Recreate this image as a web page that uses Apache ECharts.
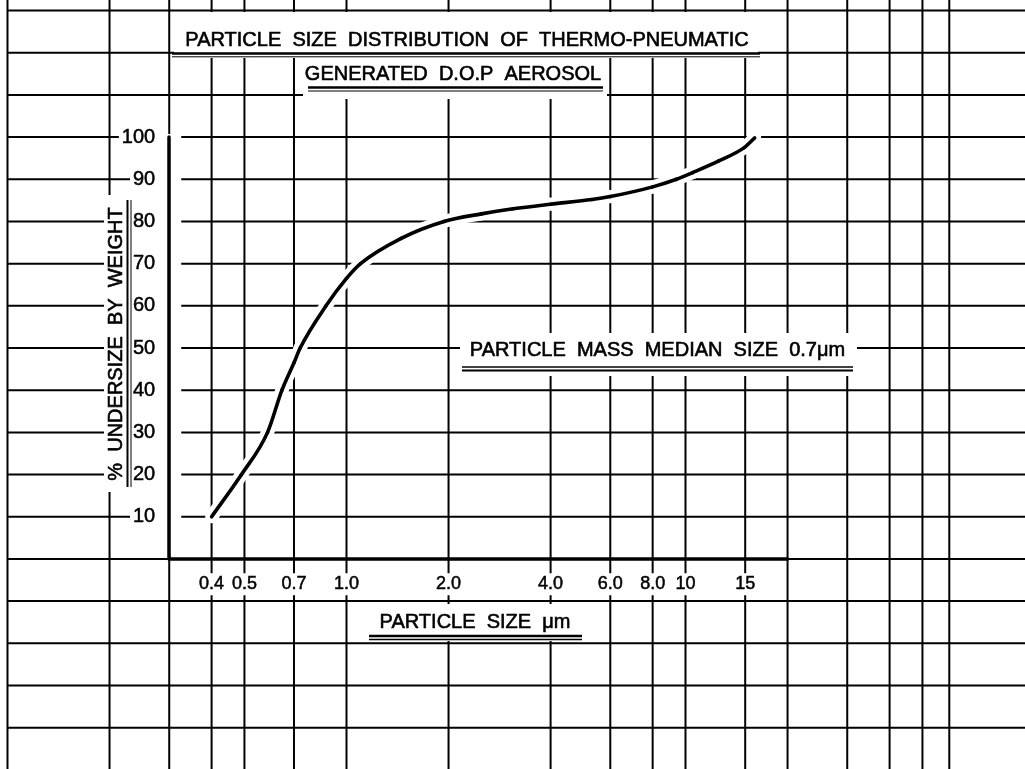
<!DOCTYPE html>
<html>
<head>
<meta charset="utf-8">
<script src="https://cdn.jsdelivr.net/npm/echarts@6/dist/echarts.min.js"></script>
<style>
html,body{margin:0;padding:0;background:#fff;}
#chart{width:1025px;height:769px;}
</style>
</head>
<body>
<div id="chart"></div>
<script>
// ---------------- data ----------------
const sizeUm =       [0.4, 0.49, 0.585, 0.645, 0.7, 0.73, 0.87, 1.0, 1.1, 1.45, 1.94, 2.5, 3.1, 4.0, 5.3, 6.0, 8.0, 9.4, 10.5, 12.5, 14.9, 16.0];
const undersizePct = [10, 20, 30, 40, 46.5, 50, 60, 66.5, 70, 76, 80, 81.8, 83.0, 84.1, 85.2, 85.9, 88.2, 90, 91.6, 94.3, 97.5, 99.8];

const xGridValues = [0.1, 0.2, 0.3, 0.4, 0.5, 0.7, 1, 2, 4, 6, 8, 10, 15, 20, 30, 40, 50, 60];
const yGridValues = [-40, -30, -20, -10, 0, 10, 20, 30, 40, 50, 60, 70, 80, 90, 100, 110, 120, 130];

const xTickValues = [0.4, 0.5, 0.7, 1, 2, 4, 6, 8, 10, 15];
const xTickLabels = ['0.4', '0.5', '0.7', '1.0', '2.0', '4.0', '6.0', '8.0', '10', '15'];

const titleLine1 = 'PARTICLE  SIZE  DISTRIBUTION  OF  THERMO-PNEUMATIC';
const titleLine2 = 'GENERATED  D.O.P  AEROSOL';
const noteText   = 'PARTICLE  MASS  MEDIAN  SIZE  0.7\u03bcm';
const xAxisName  = 'PARTICLE  SIZE  \u03bcm';
const yAxisName  = '%  UNDERSIZE  BY  WEIGHT';

// ---------------- layout ----------------
const W = 1025, H = 769;
const X_MIN = 0.09504, X_MAX = 100.34;   // whole sheet (log scale)
const Y_MIN = -49.8, Y_MAX = 132.5;      // whole sheet (linear)
const PLOT_X = [0.3, 20], PLOT_Y = [0, 100];
const TICK_LABEL_ROW = -6;
const FONT = '"Liberation Sans", Arial, sans-serif';
const lg = v => Math.log10(v);
const px = v => (lg(v) - lg(X_MIN)) / (lg(X_MAX) - lg(X_MIN)) * W;
const py = v => (Y_MAX - v) / (Y_MAX - Y_MIN) * H;

const chart = echarts.init(document.getElementById('chart'), null, {renderer: 'canvas'});

function txt(text, x, y, size, rot) {
  return {
    type: 'text', z: 7, x: x, y: y, rotation: rot || 0,
    style: {
      text: text, fill: '#000', font: size + 'px ' + FONT,
      stroke: '#000', lineWidth: 0.6,
      align: 'center', verticalAlign: 'middle',
      textAlign: 'center', textVerticalAlign: 'middle'
    }
  };
}
function mask(x, y, w, h) {
  return {type: 'rect', z: 5, shape: {x: x, y: y, width: w, height: h}, style: {fill: '#fff'}};
}
function rule(x1, y1, x2, y2, w) {
  return {type: 'line', z: 7, shape: {x1: x1, y1: y1, x2: x2, y2: y2}, style: {stroke: '#000', lineWidth: w}};
}

// monotone cubic (Fritsch-Carlson) through pixel points -> bezier segments
function monotoneBezier(p) {
  const n = p.length, d = [], m = [];
  for (let k = 0; k < n - 1; k++) d.push((p[k + 1][1] - p[k][1]) / (p[k + 1][0] - p[k][0]));
  m[0] = d[0]; m[n - 1] = d[n - 2];
  for (let k = 1; k < n - 1; k++) m[k] = (d[k - 1] * d[k] <= 0) ? 0 : (d[k - 1] + d[k]) / 2;
  for (let k = 0; k < n - 1; k++) {
    if (d[k] === 0) { m[k] = 0; m[k + 1] = 0; continue; }
    const a = m[k] / d[k], b = m[k + 1] / d[k], s = a * a + b * b;
    if (s > 9) { const t = 3 / Math.sqrt(s); m[k] = t * a * d[k]; m[k + 1] = t * b * d[k]; }
  }
  const segs = [];
  for (let k = 0; k < n - 1; k++) {
    const h = p[k + 1][0] - p[k][0];
    segs.push({x1: p[k][0], y1: p[k][1], x2: p[k + 1][0], y2: p[k + 1][1],
               cpx1: p[k][0] + h / 3, cpy1: p[k][1] + m[k] * h / 3,
               cpx2: p[k + 1][0] - h / 3, cpy2: p[k + 1][1] - m[k + 1] * h / 3});
  }
  return segs;
}

const option = {
  animation: false,
  backgroundColor: '#fff',
  grid: [
    {left: 0, right: 0, top: 0, bottom: 0},
    {left: px(PLOT_X[0]), right: W - px(PLOT_X[1]), top: py(PLOT_Y[1]), bottom: H - py(PLOT_Y[0])}
  ],
  xAxis: [
    {gridIndex: 0, type: 'log', logBase: 10, min: X_MIN, max: X_MAX, show: false},
    {gridIndex: 1, type: 'log', logBase: 10, min: PLOT_X[0], max: PLOT_X[1], z: 6,
     axisLine: {show: true, lineStyle: {color: '#000', width: 3.5}},
     axisTick: {show: false}, axisLabel: {show: false}, splitLine: {show: false}, minorTick: {show: false}}
  ],
  yAxis: [
    {gridIndex: 0, type: 'value', min: Y_MIN, max: Y_MAX, show: false},
    {gridIndex: 1, type: 'value', min: PLOT_Y[0], max: PLOT_Y[1], interval: 10, z: 6,
     axisLine: {show: true, onZero: false, lineStyle: {color: '#000', width: 3.5}},
     axisTick: {show: false}, splitLine: {show: false},
     axisLabel: {showMinLabel: false, showMaxLabel: true, margin: 11, color: '#000', fontSize: 20,
                 fontFamily: FONT, textBorderColor: '#000', textBorderWidth: 0.5,
                 backgroundColor: '#fff', padding: [1, 3, 1, 3]}}
  ],
  series: [
    { // vertical sheet lines
      type: 'custom', xAxisIndex: 0, yAxisIndex: 0, z: 1, silent: true,
      data: xGridValues.map(v => [v, 0]),
      renderItem: function (params, api) {
        const p = api.coord([api.value(0), 0]);
        const cs = params.coordSys;
        return {type: 'line', shape: {x1: p[0], y1: cs.y, x2: p[0], y2: cs.y + cs.height},
                style: {stroke: '#000', lineWidth: 2}};
      }
    },
    { // horizontal sheet lines
      type: 'custom', xAxisIndex: 0, yAxisIndex: 0, z: 1, silent: true,
      data: yGridValues.map(v => [1, v]),
      renderItem: function (params, api) {
        const p = api.coord([1, api.value(1)]);
        const cs = params.coordSys;
        const x0 = api.coord([xGridValues[0], 0])[0];
        return {type: 'line', shape: {x1: x0, y1: p[1], x2: cs.x + cs.width, y2: p[1]},
                style: {stroke: '#000', lineWidth: 2}};
      }
    },
    { // the distribution curve with a white drafting halo underneath
      type: 'custom', xAxisIndex: 0, yAxisIndex: 0, z: 3, silent: true, clip: false,
      data: [[sizeUm[0], undersizePct[0]]],
      renderItem: function (params, api) {
        const pts = sizeUm.map((v, i) => api.coord([v, undersizePct[i]]));
        const segs = monotoneBezier(pts);
        const mk = (color, width) => segs.map(s => ({
          type: 'bezierCurve', shape: s,
          style: {stroke: color, lineWidth: width, lineCap: 'round', fill: 'none'}
        }));
        return {type: 'group', children: mk('#fff', 13).concat(mk('#000', 3.6))};
      }
    },
    { // white band around the y axis
      type: 'custom', xAxisIndex: 0, yAxisIndex: 0, z: 4, silent: true,
      data: [[PLOT_X[0], PLOT_Y[0]]],
      renderItem: function (params, api) {
        const top = api.coord([PLOT_X[0], PLOT_Y[1]]);
        const bot = api.coord([PLOT_X[0], PLOT_Y[0]]);
        return {type: 'rect', shape: {x: top[0] - 14, y: top[1] - 3, width: 26, height: (bot[1] - 6) - (top[1] - 3)},
                style: {fill: '#fff'}};
      }
    },
    { // x tick labels
      type: 'custom', xAxisIndex: 0, yAxisIndex: 0, z: 6, silent: true,
      data: xTickValues.map(v => [v, TICK_LABEL_ROW]),
      renderItem: function (params, api) {
        const p = api.coord([api.value(0), api.value(1)]);
        return {type: 'text', x: p[0], y: p[1],
                style: {text: xTickLabels[params.dataIndex], fill: '#000',
                        font: '18px ' + FONT, stroke: '#000', lineWidth: 0.5,
                        align: 'center', verticalAlign: 'middle',
                        backgroundColor: '#fff', padding: [2, 2, 2, 2]}};
      }
    }
  ],
  graphic: {
    elements: [
      mask(174, 12, 584, 46),
      mask(303, 58, 304, 41),
      mask(460, 333, 397, 43),
      mask(366, 604, 222, 37),
      mask(104, 195, 30, 297),
      txt(titleLine1, 467, 40.5, 20),
      rule(172, 53.5, 760, 53.5, 2.5), rule(172, 56.8, 760, 56.8, 1),
      txt(titleLine2, 453, 74.5, 20),
      rule(308, 87.5, 603, 87.5, 2.5), rule(308, 91, 603, 91, 1),
      txt(noteText, 657.5, 350, 20),
      rule(462, 367, 853, 367, 1.5), rule(462, 370.5, 853, 370.5, 2),
      txt(xAxisName, 475, 622.5, 20),
      rule(369, 636, 582, 636, 2.5), rule(369, 639.5, 582, 639.5, 1.5),
      txt(yAxisName, 116.5, 344, 20, Math.PI / 2),
      rule(127.5, 200, 127.5, 487, 2), rule(131, 200, 131, 487, 1)
    ]
  }
};
chart.setOption(option);
</script>
</body>
</html>
